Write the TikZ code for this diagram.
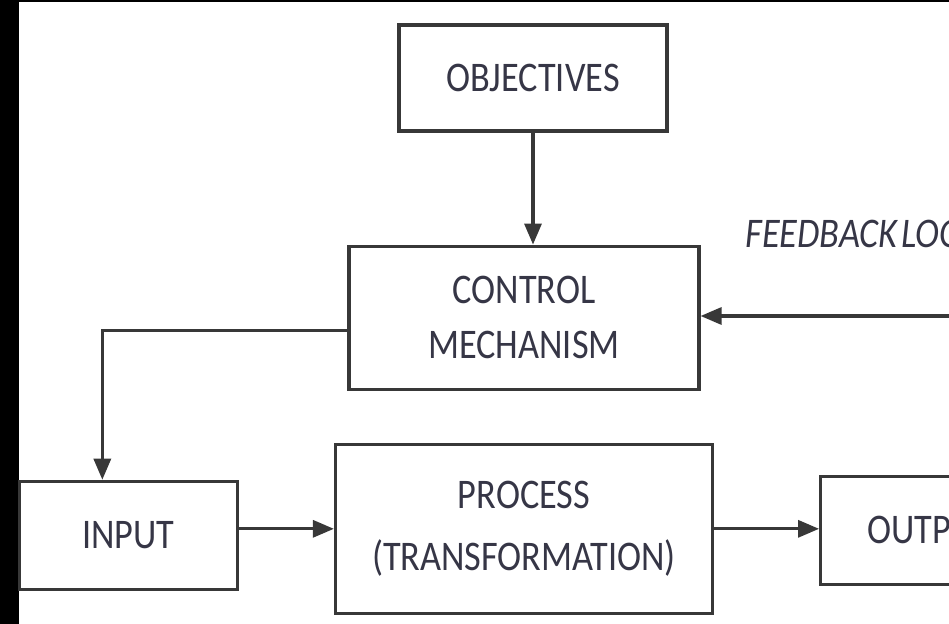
\documentclass[tikz,border=0pt]{standalone}
\usepackage{fontspec}
\setmainfont[FakeStretch=0.86]{Carlito}
\usetikzlibrary{positioning,arrows.meta}
\definecolor{boxline}{HTML}{383838}
\definecolor{boxtext}{HTML}{363646}

\begin{document}
\begin{tikzpicture}[
      block/.style={
        draw=boxline, line width=1.8pt, fill=white, text=boxtext, align=center,
        font=\fontsize{24}{31}\selectfont, inner sep=0pt
      },
      flow/.style={->, draw=boxline, line width=1.8pt},
      >={Triangle[length=0.42cm,width=0.34cm]}
      ]

  \useasboundingbox (0,0) rectangle (18.98,-12.48);
  \fill[black] (0,0) rectangle (0.38,-12.48);
  \fill[black] (0,0) rectangle (18.98,-0.04);

	  \node[block, minimum width=5.36cm, minimum height=2.12cm] (obj) at (10.66,-1.56) {OBJECTIVES};
	  \node[block, minimum width=7.0cm, minimum height=2.86cm, below = 2.24 of obj, xshift=-0.18cm] (ctrl) {CONTROL\\MECHANISM};
	  \node[block, minimum width=7.54cm, minimum height=3.38cm, below = 1.04 of ctrl] (proc) {PROCESS\\[4pt](TRANSFORMATION)};
	  \node[block, minimum width=4.36cm, minimum height=2.16cm, left = 1.9 of proc, yshift=-0.13cm] (inp) {INPUT};
	  \node[block, minimum width=4.36cm, minimum height=2.16cm, right = 2.1 of proc, yshift=-0.03cm] (outp) {OUTPUT};
	  \node[anchor=base west, inner sep=0pt, text=boxtext, font=\fontsize{24}{31}\selectfont\itshape] (fbtext) at (14.9,-4.96) {FEEDBACK\hspace{0.1em}LOOP};
	  \coordinate (fbin) at (19.3,-6.32);

  % Connect the nodes

  \draw[flow] (obj) -- (obj |- ctrl.north);
  \draw[flow] ([yshift=-0.25cm]ctrl.west) -| ([xshift=-0.52cm]inp.north);
  \draw[flow] (inp.east |- proc.west) -- (proc.west);
  \draw[flow] (proc.east) -- (proc.east -| outp.west);
  \draw[flow] (fbin) -- (fbin -| ctrl.east);

\end{tikzpicture}
\end{document}
